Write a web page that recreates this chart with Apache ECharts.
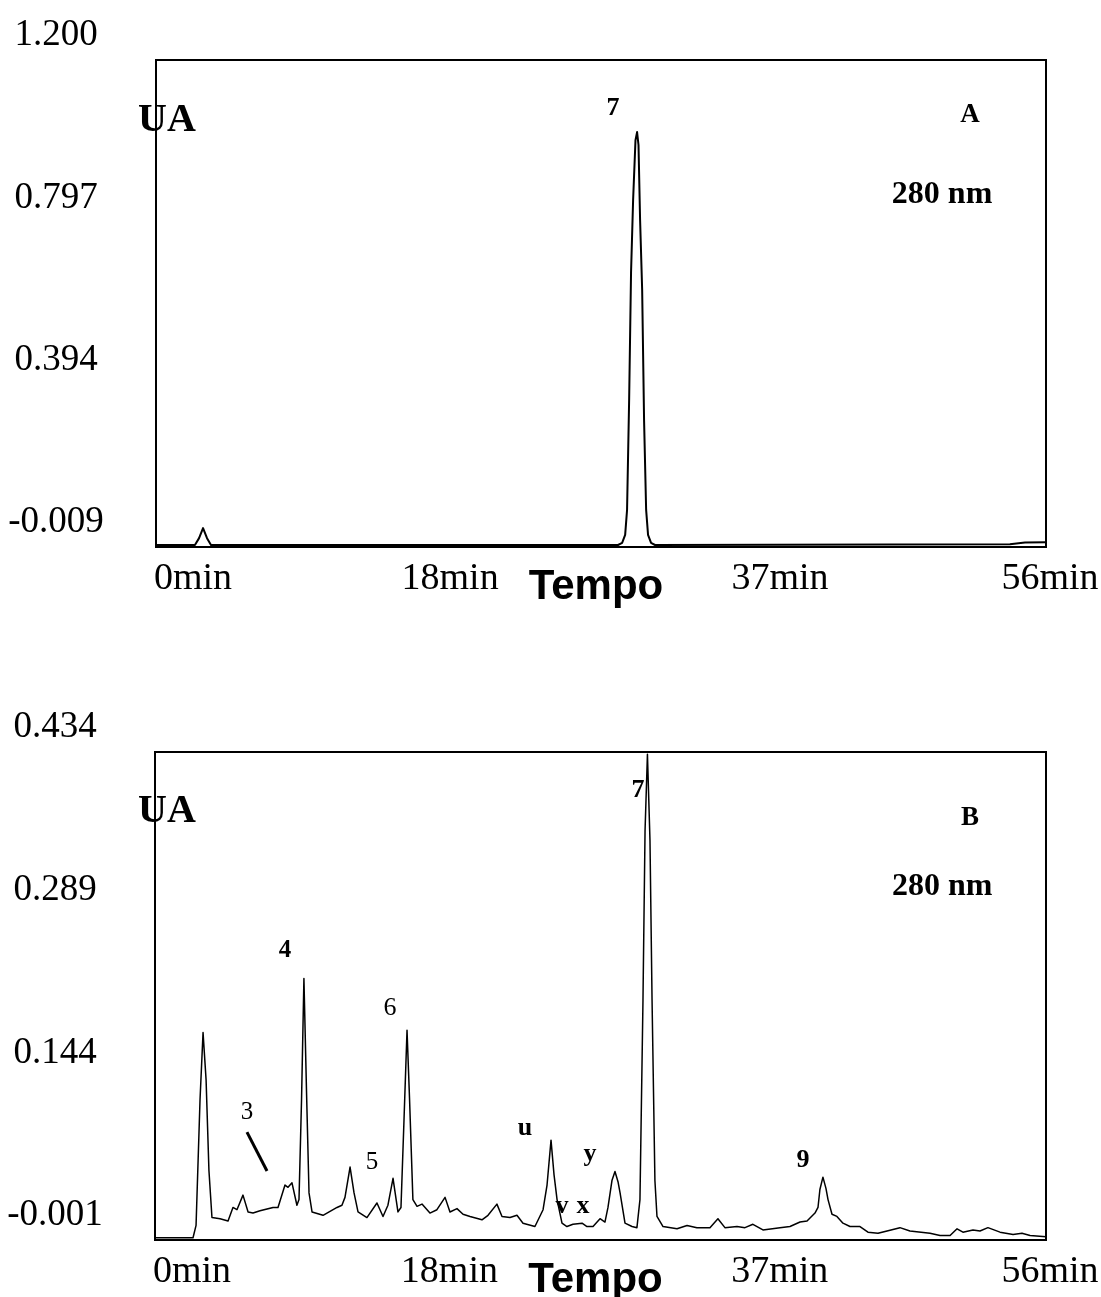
<!DOCTYPE html>
<html><head><meta charset="utf-8">
<script src="https://cdn.jsdelivr.net/npm/echarts@6/dist/echarts.min.js"></script>
<style>html,body{margin:0;padding:0;background:#fff}#c{width:1101px;height:1297px}</style>
</head><body><div id="c"></div>
<script>
// ---- Data (time in min, absorbance in UA) ----
const timeA = [0, 2.45, 2.71, 2.96, 3.21, 3.46, 27.94, 29.07, 29.33, 29.52, 29.64, 29.77, 29.89, 30.02, 30.17, 30.27, 30.36, 30.46, 30.59, 30.71, 30.84, 30.96, 31.15, 31.40, 53.73, 54.68, 56];
const uaA   = [-0.004, -0.004, 0.013, 0.038, 0.013, -0.004, -0.004, -0.004, 0.001, 0.021, 0.083, 0.356, 0.671, 0.852, 1.001, 1.021, 0.989, 0.803, 0.629, 0.306, 0.083, 0.021, 0.001, -0.004, -0.002, 0.002, 0.003];

const timeB = [0, 2.39, 2.58, 2.83, 3.02, 3.21, 3.39, 3.58, 4.09, 4.59, 4.90, 5.15, 5.53, 5.85, 6.16, 6.60, 7.42, 7.73, 8.17, 8.36, 8.61, 8.92, 9.05, 9.21, 9.36, 9.52, 9.68, 9.87, 10.56, 11.44, 11.75, 11.94, 12.26, 12.51, 12.76, 13.32, 13.95, 14.33, 14.64, 14.96, 15.27, 15.46, 15.65, 15.84, 16.00, 16.21, 16.47, 16.78, 17.28, 17.72, 18.23, 18.54, 18.98, 19.36, 19.80, 20.55, 20.93, 21.49, 21.81, 22.31, 22.75, 23.13, 23.88, 24.39, 24.64, 24.89, 25.08, 25.27, 25.58, 25.89, 26.27, 26.84, 27.15, 27.53, 27.97, 28.28, 28.47, 28.72, 28.91, 29.10, 29.23, 29.54, 29.98, 30.29, 30.48, 30.67, 30.80, 30.95, 31.11, 31.24, 31.42, 31.55, 31.93, 32.81, 33.44, 34.06, 34.88, 35.38, 35.82, 36.58, 37.08, 37.58, 38.21, 39.28, 39.91, 40.54, 40.98, 41.48, 41.67, 41.79, 41.98, 42.17, 42.30, 42.55, 42.86, 43.24, 43.68, 44.31, 44.81, 45.44, 46.01, 46.82, 47.45, 48.71, 49.34, 49.97, 50.41, 50.78, 51.41, 51.85, 52.35, 53.11, 53.93, 54.49, 55.00, 56.00];
const uaB   = [0.001, 0.001, 0.012, 0.124, 0.184, 0.142, 0.061, 0.019, 0.018, 0.016, 0.028, 0.026, 0.039, 0.024, 0.023, 0.025, 0.028, 0.028, 0.048, 0.046, 0.050, 0.030, 0.035, 0.124, 0.232, 0.133, 0.041, 0.024, 0.021, 0.028, 0.030, 0.037, 0.064, 0.041, 0.024, 0.019, 0.032, 0.020, 0.030, 0.054, 0.024, 0.028, 0.106, 0.186, 0.124, 0.035, 0.029, 0.031, 0.023, 0.026, 0.037, 0.024, 0.027, 0.022, 0.020, 0.017, 0.021, 0.031, 0.020, 0.019, 0.021, 0.014, 0.011, 0.026, 0.048, 0.088, 0.057, 0.035, 0.014, 0.011, 0.013, 0.014, 0.011, 0.011, 0.018, 0.015, 0.028, 0.052, 0.060, 0.051, 0.041, 0.014, 0.011, 0.010, 0.035, 0.213, 0.364, 0.432, 0.355, 0.213, 0.052, 0.020, 0.011, 0.009, 0.012, 0.010, 0.010, 0.018, 0.010, 0.011, 0.010, 0.013, 0.008, 0.010, 0.011, 0.015, 0.016, 0.023, 0.028, 0.044, 0.055, 0.045, 0.035, 0.022, 0.020, 0.014, 0.011, 0.011, 0.006, 0.005, 0.007, 0.010, 0.007, 0.005, 0.003, 0.003, 0.009, 0.006, 0.008, 0.007, 0.010, 0.006, 0.004, 0.005, 0.003, 0.002];

// Axis ticks
const xTicks = [0, 18, 37, 56];
const xTickLabels = ['0min', '18min', '37min', '56min'];
const yTicksA = [-0.009, 0.394, 0.797, 1.200];
const yTicksB = [-0.001, 0.144, 0.289, 0.434];

// Annotations (text, time, UA)
const annA = ['7', 'A', '280 nm', 'UA'];
const annAT = [28.76, 51.22, 49.46, 0.69];
const annAV = [1.081, 1.063, 0.865, 1.049];
const annB = ['UA', 'B', '280 nm', '7', '4', '6', '3', '5', 'u', 'v', 'x', 'y', '9'];
const annBT = [0.75, 51.22, 49.47, 30.36, 8.17, 14.77, 5.78, 13.64, 23.25, 25.58, 26.90, 27.34, 40.73];
const annBV = [0.381, 0.375, 0.314, 0.400, 0.257, 0.206, 0.113, 0.068, 0.099, 0.029, 0.029, 0.075, 0.070];
// leader line for peak 3
const leader3T = [5.78, 7.04];
const leader3V = [0.0952, 0.0605];

// ---- styles ----
const SERIF = '"Liberation Serif","DejaVu Serif",serif';
const SANS = '"Liberation Sans",Arial,sans-serif';
const annStyle = {
  'UA': {fontSize: 40, fontWeight: 'bold'},
  'A': {fontSize: 27, fontWeight: 'bold'},
  'B': {fontSize: 27, fontWeight: 'bold'},
  '280 nm': {fontSize: 32, fontWeight: 'bold'},
  '7': {fontSize: 26, fontWeight: 'bold'},
  '4': {fontSize: 25, fontWeight: 'bold'},
  '6': {fontSize: 26, fontWeight: 'normal'},
  '3': {fontSize: 25, fontWeight: 'normal'},
  '5': {fontSize: 25, fontWeight: 'normal'},
  'u': {fontSize: 26, fontWeight: 'bold'},
  'v': {fontSize: 26, fontWeight: 'bold'},
  'x': {fontSize: 26, fontWeight: 'bold'},
  'y': {fontSize: 26, fontWeight: 'bold'},
  '9': {fontSize: 26, fontWeight: 'bold'}
};

const pairs = (t, v) => t.map((x, i) => [x, v[i]]);
const annData = (names, t, v) => names.map((n, i) => ({
  name: n, value: [t[i], v[i]],
  label: Object.assign({fontFamily: SERIF, color: '#000', opacity: 1, textBorderWidth: 0}, annStyle[n] || {})
}));

const xPads = [74, 16, 72, 8];
const xRich = {};
xPads.forEach((p, i) => { xRich['p' + i] = {padding: [0, 0, 0, p], fontFamily: SERIF, fontSize: 38, color: '#000'}; });

function xAxis(gi) {
  return {
    type: 'value', gridIndex: gi, min: 0, max: 56,
    axisLine: {show: false}, axisTick: {show: false}, splitLine: {show: false},
    axisLabel: {
      customValues: xTicks, margin: 13, align: 'center',
      formatter: (v) => {
        const i = xTicks.findIndex(t => Math.abs(t - v) < 1e-6);
        return i < 0 ? '' : '{p' + i + '|' + xTickLabels[i] + '}';
      },
      rich: xRich
    },
    name: 'Tempo', nameLocation: 'middle', nameGap: 19, nameMoveOverlap: false,
    nameTextStyle: {fontFamily: SANS, fontWeight: 'bold', fontSize: 42, color: '#000', padding: [0, 10, 0, 0]}
  };
}
function yAxis(gi, ticks) {
  return {
    type: 'value', gridIndex: gi, min: ticks[0], max: ticks[ticks.length - 1],
    axisLine: {show: false}, axisTick: {show: false}, splitLine: {show: false},
    axisLabel: {
      customValues: ticks, margin: 100, align: 'center', verticalAlign: 'middle',
      formatter: (v) => '{t|' + v.toFixed(3) + '}',
      rich: {t: {padding: [0, 0, 49, 0], fontFamily: SERIF, fontSize: 37, color: '#000'}}
    }
  };
}

const chart = echarts.init(document.getElementById('c'), null, {renderer: 'canvas'});
chart.setOption({
  animation: false,
  backgroundColor: '#fff',
  grid: [
    {left: 156, top: 60, width: 890, height: 487, outerBoundsMode: 'none', containLabel: false, show: true, borderColor: '#000', borderWidth: 2, backgroundColor: 'transparent'},
    {left: 155, top: 752, width: 891, height: 488, outerBoundsMode: 'none', containLabel: false, show: true, borderColor: '#000', borderWidth: 2, backgroundColor: 'transparent'}
  ],
  xAxis: [xAxis(0), xAxis(1)],
  yAxis: [yAxis(0, yTicksA), yAxis(1, yTicksB)],
  series: [
    {type: 'line', xAxisIndex: 0, yAxisIndex: 0, data: pairs(timeA, uaA), showSymbol: false,
     lineStyle: {color: '#000', width: 2, join: 'round'}},
    {type: 'line', xAxisIndex: 1, yAxisIndex: 1, data: pairs(timeB, uaB), showSymbol: false,
     lineStyle: {color: '#000', width: 1.5, join: 'round'}},
    {type: 'line', xAxisIndex: 1, yAxisIndex: 1, data: pairs(leader3T, leader3V), showSymbol: false,
     lineStyle: {color: '#000', width: 3}},
    {type: 'scatter', xAxisIndex: 0, yAxisIndex: 0, symbolSize: 1, itemStyle: {color: 'rgba(0,0,0,0)', opacity: 1},
     label: {show: true, position: 'inside', formatter: '{b}'}, data: annData(annA, annAT, annAV), z: 5},
    {type: 'scatter', xAxisIndex: 1, yAxisIndex: 1, symbolSize: 1, itemStyle: {color: 'rgba(0,0,0,0)', opacity: 1},
     label: {show: true, position: 'inside', formatter: '{b}'}, data: annData(annB, annBT, annBV), z: 5}
  ]
});
</script></body></html>
